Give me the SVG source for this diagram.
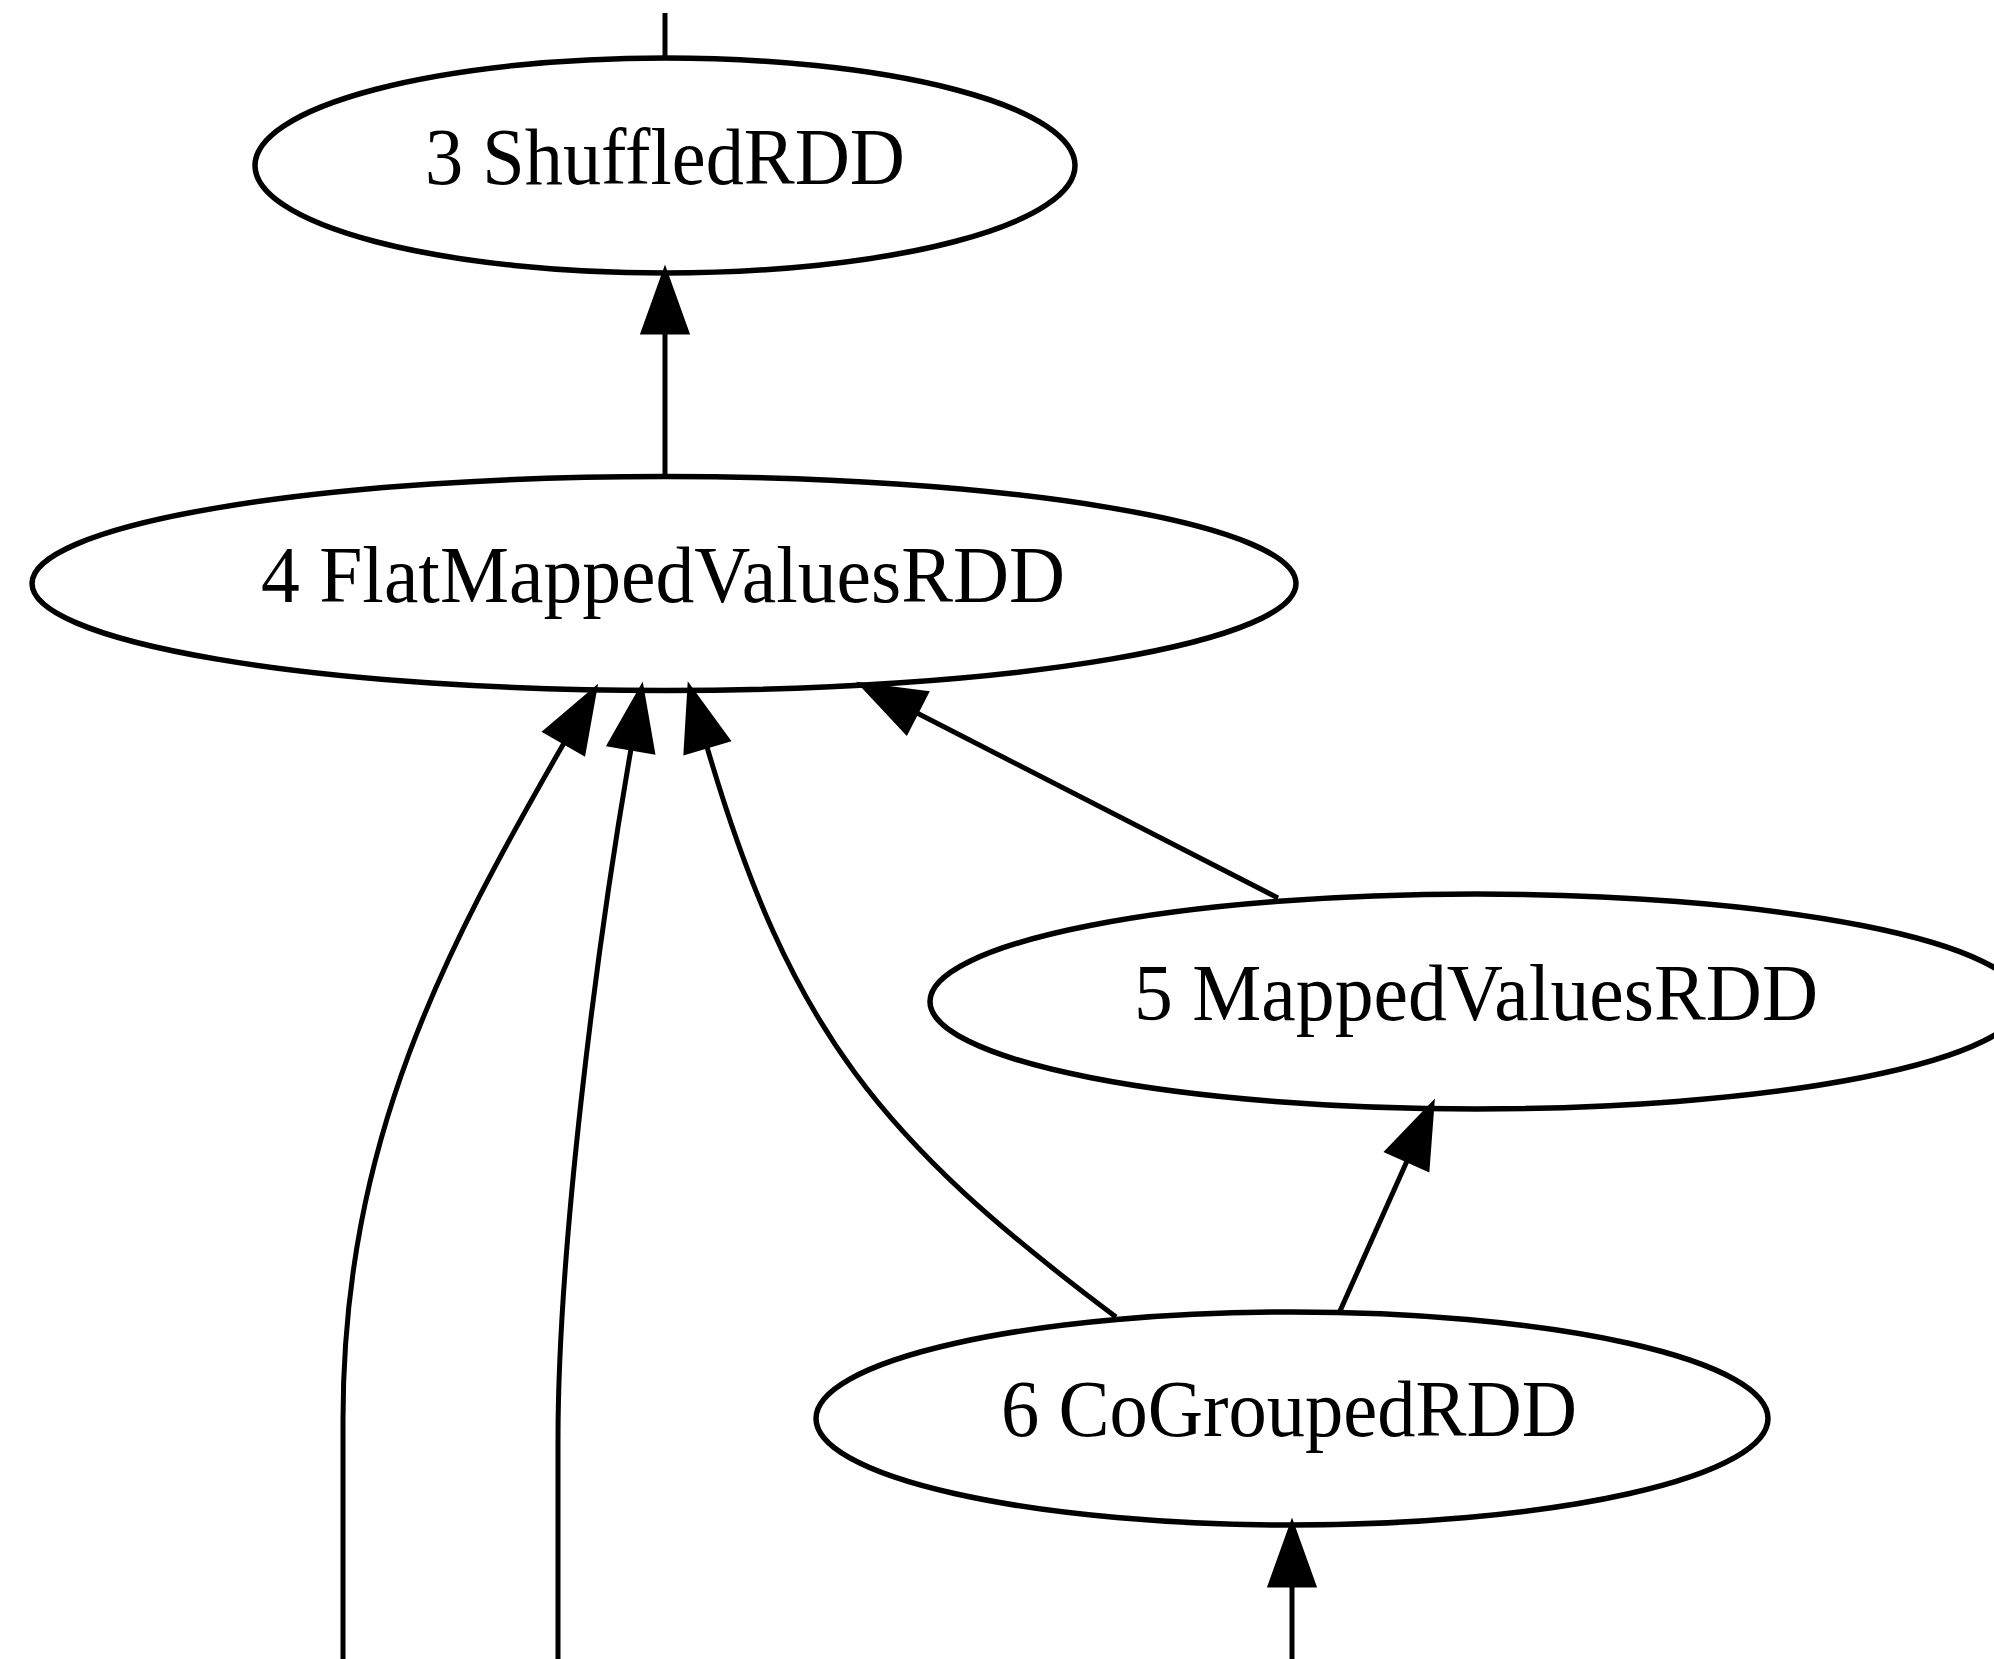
<svg xmlns="http://www.w3.org/2000/svg" width="1994" height="1659" viewBox="0 0 1994 1659">
<style>
  .node ellipse { fill: none; stroke: #000; stroke-width: 5.5; }
  .node text { font-family: "Liberation Serif", "Times New Roman", serif; font-size: 81px; fill: #000; text-anchor: middle; }
  .edge { fill: none; stroke: #000; stroke-width: 5; }
  .arr { marker-end: url(#arrow); }
</style>
<defs>
  <marker id="arrow" markerUnits="userSpaceOnUse" markerWidth="80" markerHeight="60" refX="0" refY="30" orient="auto" overflow="visible">
    <path d="M0,7 L64,30 L0,53 Z" fill="#000" stroke="#000" stroke-width="3" stroke-linejoin="miter"/>
  </marker>
</defs>
<rect width="1994" height="1659" fill="#fff"/>
<g id="edges">
  <path class="edge" d="M665,13 V58"/>
  <path class="edge arr" d="M665,478 V333"/>
  <path class="edge arr" d="M343,1659 V1420 C343,1140 445,950 564,743"/>
  <path class="edge arr" d="M558,1659 V1440 C558,1250 596,950 631,749"/>
  <path class="edge arr" d="M1116,1317 C880,1140 790,1030 707,747"/>
  <path class="edge arr" d="M1278,898 L917,713"/>
  <path class="edge arr" d="M1340,1311 L1407,1161"/>
  <path class="edge arr" d="M1292,1659 V1586"/>
</g>
<g id="node3" class="node">
  <ellipse cx="665" cy="165.5" rx="410" ry="107.5"/>
  <text x="665" y="184" textLength="480" lengthAdjust="spacingAndGlyphs">3 ShuffledRDD</text>
</g>
<g id="node4" class="node">
  <ellipse cx="664" cy="583.5" rx="632" ry="107"/>
  <text x="663" y="602" textLength="804" lengthAdjust="spacingAndGlyphs">4 FlatMappedValuesRDD</text>
</g>
<g id="node5" class="node">
  <ellipse cx="1476" cy="1001.5" rx="546" ry="107.5"/>
  <text x="1476" y="1020" textLength="684" lengthAdjust="spacingAndGlyphs">5 MappedValuesRDD</text>
</g>
<g id="node6" class="node">
  <ellipse cx="1292" cy="1418.5" rx="476" ry="106.5"/>
  <text x="1289" y="1436" textLength="576" lengthAdjust="spacingAndGlyphs">6 CoGroupedRDD</text>
</g>
</svg>
